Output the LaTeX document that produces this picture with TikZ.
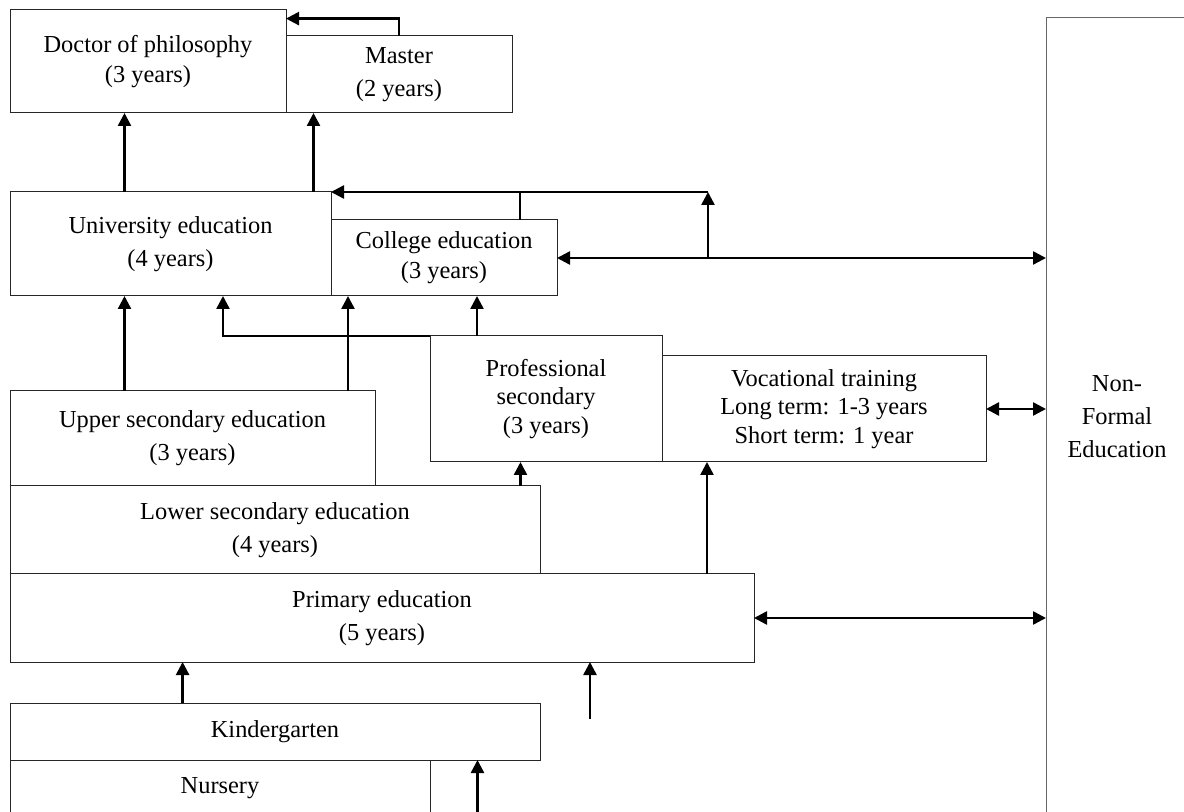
\documentclass[tikz,border=0pt]{standalone}
\usepackage{fontspec}
\setmainfont{Liberation Serif}
\usetikzlibrary{arrows.meta}
\begin{document}
\begin{tikzpicture}[x=0.5pt,y=-0.5pt,
  box/.style={draw=black!85, line width=0.5pt, inner sep=0pt, outer sep=0pt, align=center,
              rectangle, font=\fontsize{12.2}{16.5}\selectfont},
  tight/.style={font=\fontsize{12.2}{14.2}\selectfont},
  doc15/.style={font=\fontsize{12.2}{15}\selectfont},
  arr/.style={line width=1.25pt, -{Triangle[length=6.5pt,width=6.5pt]}},
  darr/.style={line width=1.25pt, {Triangle[length=6.5pt,width=6.5pt]}-{Triangle[length=6.5pt,width=6.5pt]}},
  ln/.style={line width=1.25pt}]
\useasboundingbox (0,0) rectangle (1184,812);
\clip (0,0) rectangle (1184,812);

% boxes
\node[box, doc15, minimum width=138pt, minimum height=51.5pt] (doc) at (148,61.5) {Doctor of philosophy\\(3 years)};
\node[box, minimum width=113pt, minimum height=38.5pt] (master) at (399,74.5) {Master\\(2 years)};
\node[box, minimum width=160.5pt, minimum height=52pt] (univ) at (170.5,244) {University education\\(4 years)};
\node[box, doc15, minimum width=113pt, minimum height=38pt] (college) at (444,258) {College education\\(3 years)};
\node[box, minimum width=182.5pt, minimum height=47.5pt] (upper) at (192.5,438.5) {Upper secondary education\\(3 years)};
\node[box, tight, minimum width=116pt, minimum height=63pt] (prof) at (546,399) {Professional\\secondary\\(3 years)};
\node[box, tight, minimum width=162pt, minimum height=53pt] (voc) at (824,409) {Vocational training\\Long term: 1-3 years\\Short term: 1 year};
\node[box, minimum width=265pt, minimum height=44pt] (lower) at (275,530) {Lower secondary education\\(4 years)};
\node[box, minimum width=372pt, minimum height=44pt] (primary) at (382,618) {Primary education\\(5 years)};
\node[box, minimum width=265pt, minimum height=28.5pt] (kinder) at (275,731.5) {Kindergarten};
\node[box, minimum width=210pt, minimum height=28pt] (nursery) at (220,788) {Nursery};
\node[box, draw=black!60, minimum width=71pt, minimum height=399pt] (nfe) at (1117,417) {Non-\\Formal\\Education};

% helper coordinates
\coordinate (xa) at (124.5,0);
\coordinate (xb) at (313.5,0);
\coordinate (mt) at (399,18.6);
\coordinate (ct) at (520,192);
\coordinate (vt) at (708,192);
\coordinate (xc) at (348,0);
\coordinate (xd) at (223,0);
\coordinate (xe) at (477,0);
\coordinate (xf) at (520.5,0);
\coordinate (xg) at (707,0);
\coordinate (xh) at (182.6,0);
\coordinate (fa) at (590,719);
\coordinate (fb) at (477.5,816);

% connectors
\draw[arr] (master.north -| mt) |- (doc.east |- mt);
\draw[arr] (univ.north -| xa) -- (doc.south -| xa);
\draw[arr] (univ.north -| xb) -- (master.south -| xb);
\draw[ln] (college.north -| ct) -- (ct);
\draw[arr] (college.east -| vt) -- (vt);
\draw[arr] (vt) -- (univ.north east);
\draw[darr] (college.east) -- (college.east -| nfe.west);
\draw[arr] (upper.north -| xa) -- (univ.south -| xa);
\draw[arr] (upper.north -| xc) -- (college.south -| xc);
\draw[arr] (prof.north west) -| (univ.south -| xd);
\draw[arr] (prof.north -| xe) -- (college.south -| xe);
\draw[arr] (lower.north -| xf) -- (prof.south -| xf);
\draw[arr] (primary.north -| xg) -- (voc.south -| xg);
\draw[darr] (voc.east) -- (voc.east -| nfe.west);
\draw[darr] (primary.east) -- (primary.east -| nfe.west);
\draw[arr] (kinder.north -| xh) -- (primary.south -| xh);
\draw[arr] (fa) -- (primary.south -| fa);
\draw[arr] (fb) -- (kinder.south -| fb);
\end{tikzpicture}
\end{document}
